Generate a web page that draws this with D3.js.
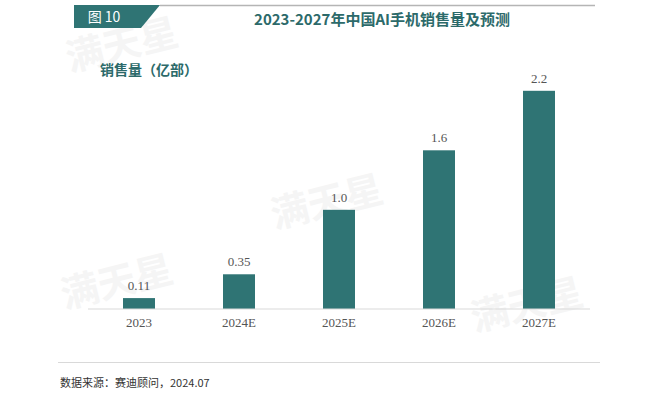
<!DOCTYPE html>
<html>
<head>
<meta charset="utf-8">
<script src="https://cdn.jsdelivr.net/npm/d3@7"></script>
<style>
  body { margin: 0; background: #fff; }
  svg { display: block; }
</style>
</head>
<body>
<svg id="chart" width="660" height="407"></svg>
<script>
// data
var years = ["2023", "2024E", "2025E", "2026E", "2027E"];
var sales = [0.11, 0.35, 1.0, 1.6, 2.2];
var salesLabels = ["0.11", "0.35", "1.0", "1.6", "2.2"];

var teal = "#2f7474";
var svg = d3.select("#chart");

// faint watermarks
var marks = [[125, 58], [330, 215], [120, 295], [530, 318]];
svg.selectAll(".wm")
  .data(marks)
  .enter()
  .append("text")
  .attr("class", "wm")
  .attr("transform", function(d) { return "translate(" + d[0] + "," + d[1] + ") rotate(-14)"; })
  .attr("text-anchor", "middle")
  .style("font-family", "'Noto Sans CJK SC', sans-serif")
  .style("font-weight", "bold")
  .style("font-size", "38px")
  .style("fill", "#f5f5f5")
  .text("满天星");

// header
svg.append("path")
  .attr("d", "M74,5 L160,5 L141,28 L74,28 Z")
  .attr("fill", teal);
svg.append("text")
  .attr("x", 104).attr("y", 22)
  .attr("text-anchor", "middle")
  .style("font-family", "'Noto Sans CJK SC', sans-serif")
  .style("font-size", "14px")
  .style("fill", "#fff")
  .text("图 10");
svg.append("line")
  .attr("x1", 160).attr("x2", 595)
  .attr("y1", 5.5).attr("y2", 5.5)
  .attr("stroke", "#b5b5b5").attr("stroke-width", 1.5);

svg.append("text")
  .attr("x", 382).attr("y", 25)
  .attr("text-anchor", "middle")
  .style("font-family", "'Noto Sans CJK SC', sans-serif")
  .style("font-weight", "bold")
  .style("font-size", "15px")
  .style("fill", "#2c6a6a")
  .text("2023-2027年中国AI手机销售量及预测");

svg.append("text")
  .attr("x", 100).attr("y", 75)
  .style("font-family", "'Noto Sans CJK SC', sans-serif")
  .style("font-weight", "bold")
  .style("font-size", "14px")
  .style("fill", "#2c6a6a")
  .text("销售量（亿部）");

// scales
var x = d3.scaleBand()
  .domain(years)
  .range([89, 589])
  .paddingInner(0.68)
  .paddingOuter(0.34);

var y = d3.scaleLinear()
  .domain([0, 2.2])
  .range([309, 90.8]);

// bars
svg.selectAll(".bar")
  .data(sales)
  .enter()
  .append("rect")
  .attr("class", "bar")
  .attr("x", function(d, i) { return x(years[i]); })
  .attr("y", function(d) { return y(d); })
  .attr("width", x.bandwidth())
  .attr("height", function(d) { return y(0) - y(d); })
  .attr("fill", teal);

svg.selectAll(".val")
  .data(sales)
  .enter()
  .append("text")
  .attr("class", "val")
  .attr("x", function(d, i) { return x(years[i]) + x.bandwidth() / 2; })
  .attr("y", function(d) { return y(d) - 8; })
  .attr("text-anchor", "middle")
  .style("font-family", "'Liberation Serif', serif")
  .style("font-size", "13px")
  .style("fill", "#555")
  .text(function(d, i) { return salesLabels[i]; });

// x axis
var xAxis = svg.append("g")
  .attr("transform", "translate(0," + y(0) + ")")
  .call(d3.axisBottom(x).tickSize(0).tickPadding(9));
xAxis.select(".domain").remove();
xAxis.append("line")
  .attr("x1", 88).attr("x2", 590)
  .attr("stroke", "#d9d9d9");
xAxis.selectAll(".tick text")
  .style("font-family", "'Liberation Serif', serif")
  .style("font-size", "13px")
  .style("fill", "#555");

// footer
svg.append("line")
  .attr("x1", 58).attr("x2", 600)
  .attr("y1", 362.5).attr("y2", 362.5)
  .attr("stroke", "#d9d9d9");

svg.append("text")
  .attr("x", 60).attr("y", 387)
  .style("font-family", "'Noto Sans CJK SC', sans-serif")
  .style("font-size", "11px")
  .style("fill", "#333")
  .text("数据来源：赛迪顾问，2024.07");
</script>
</body>
</html>
